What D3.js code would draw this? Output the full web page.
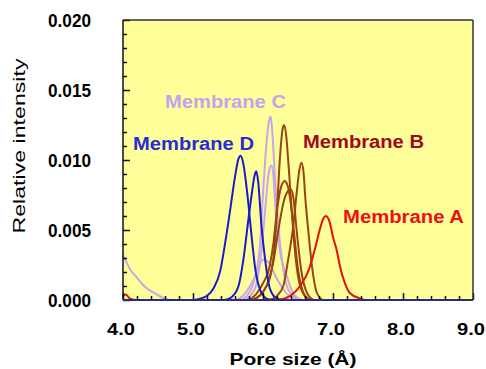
<!DOCTYPE html>
<html>
<head>
<meta charset="utf-8">
<script src="https://cdn.jsdelivr.net/npm/d3@7"></script>
<style>
  body { margin: 0; background: #fff; }
  text { font-family: "Liberation Sans", Arial, sans-serif; }
</style>
</head>
<body>
<div id="chart"></div>
<script>
// pore size (A) vs relative intensity
var membraneA = [[4.0,0.0003],[4.04,0.0004],[4.1,0.0001],[4.2,0],[6.2,0],[6.3,0.0001],[6.39,0.0003],[6.53,0.0010],[6.65,0.0021],[6.74,0.0036],[6.81,0.0050],[6.86,0.0058],[6.9,0.0060],[6.95,0.0056],[7.0,0.0045],[7.05,0.0036],[7.1,0.0024],[7.17,0.0012],[7.24,0.0005],[7.39,0.0001],[7.45,0]];

var membraneB1 = [[5.85,0],[5.95,0.0003],[6.05,0.0010],[6.1,0.0016],[6.16,0.0035],[6.2,0.0064],[6.24,0.0100],[6.28,0.0122],[6.3,0.0125],[6.33,0.0118],[6.36,0.0100],[6.41,0.0064],[6.46,0.0033],[6.53,0.0010],[6.62,0.0002],[6.7,0]];
var membraneB2 = [[6.1,0],[6.2,0.0003],[6.29,0.0010],[6.36,0.0029],[6.43,0.0052],[6.48,0.0076],[6.52,0.0093],[6.55,0.0098],[6.58,0.0091],[6.6,0.0076],[6.65,0.0048],[6.7,0.0024],[6.77,0.0005],[6.85,0]];
var membraneB3 = [[5.8,0],[5.9,0.0004],[6.0,0.0012],[6.08,0.0021],[6.15,0.0041],[6.2,0.0064],[6.26,0.0081],[6.31,0.0085],[6.35,0.0082],[6.4,0.0068],[6.45,0.0045],[6.5,0.0022],[6.57,0.0006],[6.65,0]];
var membraneB4 = [[5.85,0],[5.95,0.0003],[6.05,0.0010],[6.15,0.0028],[6.22,0.0050],[6.3,0.0071],[6.36,0.0078],[6.4,0.0079],[6.44,0.0071],[6.48,0.0050],[6.55,0.0020],[6.62,0.0006],[6.72,0]];

var membraneC1 = [[5.7,0],[5.8,0.0005],[5.89,0.0017],[5.96,0.0041],[6.0,0.0076],[6.05,0.0112],[6.09,0.0129],[6.11,0.0131],[6.13,0.0122],[6.17,0.0088],[6.22,0.0052],[6.27,0.0029],[6.34,0.0010],[6.45,0.0002],[6.55,0]];
var membraneC2 = [[5.75,0],[5.85,0.0005],[5.91,0.0012],[5.98,0.0036],[6.03,0.0064],[6.08,0.0090],[6.12,0.0096],[6.15,0.0088],[6.18,0.0064],[6.24,0.0036],[6.34,0.0017],[6.43,0.0005],[6.55,0]];
var membraneC3 = [[4.0,0.0032],[4.05,0.0027],[4.1,0.0022],[4.2,0.0016],[4.3,0.0010],[4.45,0.0005],[4.6,0.0001],[4.7,0],[5.6,0],[5.75,0.0005],[5.9,0.0018],[6.0,0.0029],[6.08,0.0027],[6.2,0.0015],[6.35,0.0004],[6.5,0]];

var membraneD1 = [[5.0,0],[5.1,0.0001],[5.2,0.0003],[5.29,0.0008],[5.39,0.0021],[5.46,0.0041],[5.53,0.0064],[5.6,0.0088],[5.65,0.0101],[5.68,0.0103],[5.72,0.0097],[5.78,0.0074],[5.84,0.0044],[5.89,0.0022],[5.96,0.0007],[6.05,0.0001],[6.15,0]];
var membraneD2 = [[5.45,0],[5.55,0.0002],[5.65,0.0010],[5.72,0.0029],[5.79,0.0057],[5.84,0.0076],[5.88,0.0089],[5.905,0.0092],[5.93,0.0085],[5.98,0.0052],[6.03,0.0029],[6.1,0.0008],[6.2,0.0001],[6.3,0]];

var xTickLabels = ["4.0", "5.0", "6.0", "7.0", "8.0", "9.0"];
var yTickLabels = ["0.000", "0.005", "0.010", "0.015", "0.020"];

var w = 486;
var h = 369;
var plotLeft = 123, plotRight = 473, plotTop = 20, plotBottom = 300;

var xScale = d3.scaleLinear().domain([4, 9]).range([plotLeft, plotRight]);
var yScale = d3.scaleLinear().domain([0, 0.02]).range([plotBottom, plotTop]);

var svg = d3.select("#chart")
            .append("svg")
            .attr("width", w)
            .attr("height", h);

svg.append("rect")
   .attr("x", plotLeft)
   .attr("y", plotTop)
   .attr("width", plotRight - plotLeft)
   .attr("height", plotBottom - plotTop)
   .attr("fill", "#ffff99");

var line = d3.line()
             .x(function(d) { return xScale(d[0]); })
             .y(function(d) { return yScale(d[1]); })
             .curve(d3.curveMonotoneX);

var series = [
  { data: membraneC3, color: "#c8a6ea" },
  { data: membraneC2, color: "#c8a6ea" },
  { data: membraneC1, color: "#c8a6ea" },
  { data: membraneB3, color: "#9a4510" },
  { data: membraneB4, color: "#9a4510" },
  { data: membraneB2, color: "#9a4510" },
  { data: membraneB1, color: "#9a4510" },
  { data: membraneD1, color: "#1a1acc" },
  { data: membraneD2, color: "#1a1acc" },
  { data: membraneA, color: "#e41010" }
];

svg.append("g")
   .selectAll("path")
   .data(series)
   .enter()
   .append("path")
   .attr("d", function(d) { return line(d.data); })
   .attr("fill", "none")
   .attr("stroke", function(d) { return d.color; })
   .attr("stroke-width", 2);

// ticks pointing inward, minor every 0.2 / 0.001
var xAxis = d3.axisTop(xScale)
              .tickValues(d3.range(0, 26).map(function(i) { return 4 + i * 0.2; }))
              .tickSize(4)
              .tickFormat("");
svg.append("g")
   .attr("transform", "translate(0," + plotBottom + ")")
   .call(xAxis)
   .call(function(g) { g.select(".domain").remove(); })
   .selectAll(".tick line")
   .attr("stroke", "#111")
   .attr("stroke-width", 1.5)
   .attr("y2", function(d, i) { return i % 5 === 0 ? -7 : -4; });

var yAxis = d3.axisRight(yScale)
              .tickValues(d3.range(0, 21).map(function(i) { return i * 0.001; }))
              .tickSize(4)
              .tickFormat("");
svg.append("g")
   .attr("transform", "translate(" + plotLeft + ",0)")
   .call(yAxis)
   .call(function(g) { g.select(".domain").remove(); })
   .selectAll(".tick line")
   .attr("stroke", "#111")
   .attr("stroke-width", 1.5)
   .attr("x2", function(d, i) { return i % 5 === 0 ? 7 : 4; });

// frame
svg.append("line").attr("x1", plotLeft).attr("x2", plotRight).attr("y1", plotTop).attr("y2", plotTop)
   .attr("stroke", "#333").attr("stroke-width", 1.5);
svg.append("line").attr("x1", plotRight).attr("x2", plotRight).attr("y1", plotTop).attr("y2", plotBottom)
   .attr("stroke", "#333").attr("stroke-width", 1.5);
svg.append("line").attr("x1", plotLeft).attr("x2", plotLeft).attr("y1", plotTop).attr("y2", plotBottom)
   .attr("stroke", "#111").attr("stroke-width", 1.5);
svg.append("line").attr("x1", plotLeft).attr("x2", plotRight).attr("y1", plotBottom).attr("y2", plotBottom)
   .attr("stroke", "#2a2a80").attr("stroke-width", 2);

// tick labels
svg.selectAll(".xlab")
   .data(xTickLabels)
   .enter()
   .append("text")
   .attr("class", "xlab")
   .attr("x", function(d) { return xScale(+d) - 2; })
   .attr("y", 335)
   .attr("text-anchor", "middle")
   .attr("font-size", 17)
   .attr("font-weight", "bold")
   .attr("textLength", 28)
   .attr("lengthAdjust", "spacingAndGlyphs")
   .text(function(d) { return d; });

svg.selectAll(".ylab")
   .data(yTickLabels)
   .enter()
   .append("text")
   .attr("class", "ylab")
   .attr("x", 48)
   .attr("y", function(d) { return yScale(+d) + 6.5; })
   .attr("font-size", 18)
   .attr("font-weight", "bold")
   .attr("textLength", 43)
   .attr("lengthAdjust", "spacingAndGlyphs")
   .text(function(d) { return d; });

// axis titles
svg.append("text")
   .attr("x", 293)
   .attr("y", 365)
   .attr("text-anchor", "middle")
   .attr("font-size", 17)
   .attr("font-weight", "bold")
   .attr("textLength", 127)
   .attr("lengthAdjust", "spacingAndGlyphs")
   .text("Pore size (Å)");

svg.append("text")
   .attr("transform", "translate(25,146) rotate(-90)")
   .attr("text-anchor", "middle")
   .attr("font-size", 17)
   .attr("textLength", 175)
   .attr("lengthAdjust", "spacingAndGlyphs")
   .text("Relative intensity");

// series labels
var labels = [
  { text: "Membrane C", x: 165, y: 108, color: "#c4a2ee" },
  { text: "Membrane D", x: 133, y: 150, color: "#2a2ad8" },
  { text: "Membrane B", x: 303, y: 148, color: "#a00820" },
  { text: "Membrane A", x: 343, y: 223, color: "#ee1010" }
];

svg.selectAll(".serlab")
   .data(labels)
   .enter()
   .append("text")
   .attr("class", "serlab")
   .attr("x", function(d) { return d.x; })
   .attr("y", function(d) { return d.y; })
   .attr("font-size", 18)
   .attr("font-weight", "bold")
   .attr("fill", function(d) { return d.color; })
   .attr("textLength", 121)
   .attr("lengthAdjust", "spacingAndGlyphs")
   .text(function(d) { return d.text; });
</script>
</body>
</html>
